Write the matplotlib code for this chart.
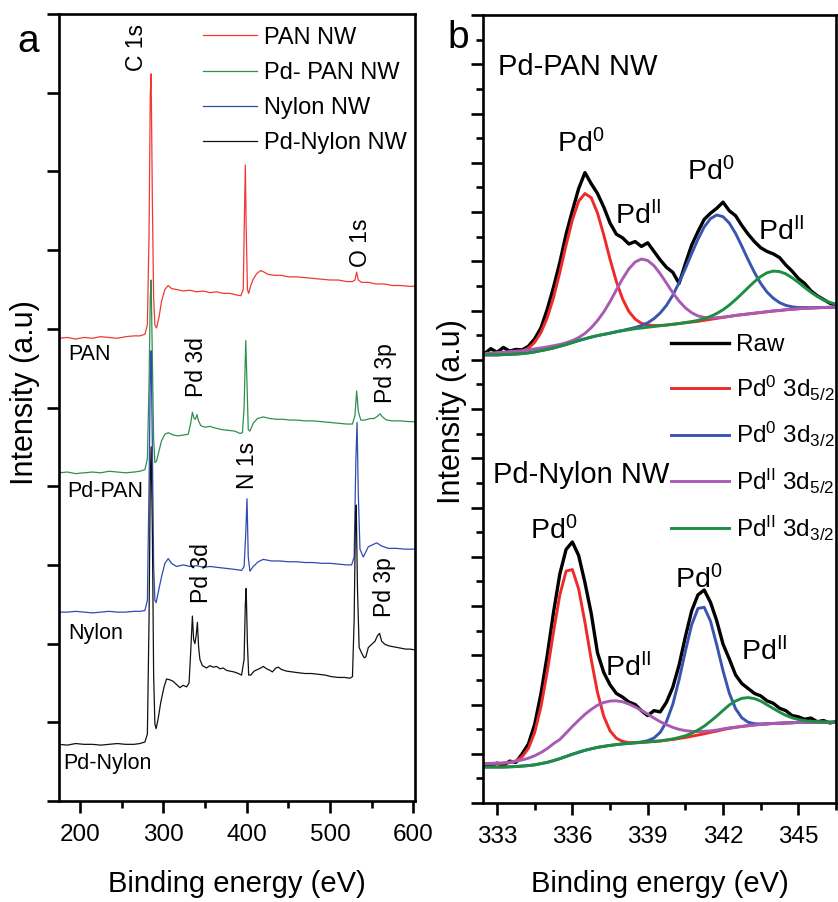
import numpy as np
import matplotlib
matplotlib.use('Agg')
import matplotlib.pyplot as plt
from matplotlib.ticker import MultipleLocator, NullFormatter

plt.rcParams['font.family'] = ['Liberation Sans', 'DejaVu Sans']
plt.rcParams['mathtext.fontset'] = 'custom'
plt.rcParams['mathtext.rm'] = 'Liberation Sans'
plt.rcParams['mathtext.it'] = 'Liberation Sans:italic'
plt.rcParams['mathtext.bf'] = 'Liberation Sans:bold'

# ---------------- panel a: survey spectra (offset, a.u.) ----------------
pan_e = [175, 185, 195, 205, 215, 225, 235, 245, 255, 265, 272, 278, 281, 283, 284.5, 285.5, 287, 288.5,
         290, 292, 295, 298, 302, 306, 310, 316, 324, 332, 340, 348, 356, 364, 372, 380, 388, 393,
         396, 397.5, 398.5, 399.5, 401, 402.5, 405, 408, 412, 417, 421, 426, 434, 442, 450, 460, 470,
         480, 490, 500, 510, 520, 527, 530, 532, 534, 538, 546, 555, 565, 575, 585, 595, 602]
pan_i = [5.88, 5.89, 5.87, 5.89, 5.88, 5.90, 5.89, 5.88, 5.90, 5.91, 5.91, 5.93, 6.05, 7.2, 9.0, 9.24, 7.6, 6.4,
         6.05, 6.01, 6.15, 6.35, 6.50, 6.55, 6.51, 6.50, 6.48, 6.49, 6.47, 6.48, 6.46, 6.47, 6.45, 6.45, 6.43, 6.42,
         6.50, 7.5, 8.08, 7.3, 6.5, 6.45, 6.55, 6.63, 6.70, 6.74, 6.72, 6.69, 6.68, 6.68, 6.66, 6.66, 6.65,
         6.64, 6.63, 6.62, 6.62, 6.60, 6.60, 6.62, 6.72, 6.62, 6.59, 6.59, 6.57, 6.57, 6.55, 6.55, 6.54, 6.54]

pdpan_e = [175, 185, 195, 205, 215, 225, 235, 245, 255, 265, 272, 278, 281, 283, 284.5, 285.5, 287, 288.5,
           290, 292, 295, 298, 302, 306, 312, 318, 324, 330, 333, 335, 337, 338.5, 340.5, 342, 345, 350,
           356, 362, 370, 378, 386, 392, 395, 397, 399, 400.5, 402, 404, 408, 413, 420, 428, 436, 444,
           452, 460, 470, 480, 490, 500, 510, 520, 527, 530, 532, 534, 537, 542, 548, 553, 557, 560,
           563, 568, 575, 585, 595, 602]
pdpan_i = [4.17, 4.18, 4.16, 4.17, 4.18, 4.17, 4.19, 4.18, 4.17, 4.18, 4.19, 4.21, 4.35, 5.3, 6.4, 6.62, 5.6, 4.6,
           4.30, 4.32, 4.45, 4.58, 4.66, 4.68, 4.65, 4.64, 4.65, 4.66, 4.80, 4.94, 4.86, 4.85, 4.91, 4.84, 4.77, 4.75,
           4.76, 4.74, 4.72, 4.71, 4.70, 4.67, 4.68, 5.0, 5.85, 5.3, 4.72, 4.70, 4.80, 4.86, 4.88, 4.86, 4.85, 4.85,
           4.84, 4.84, 4.83, 4.83, 4.82, 4.81, 4.80, 4.79, 4.79, 4.90, 5.21, 4.95, 4.84, 4.84, 4.86, 4.86, 4.89, 4.92,
           4.88, 4.84, 4.83, 4.83, 4.82, 4.82]

nylon_e = [175, 185, 195, 205, 215, 225, 235, 245, 255, 265, 272, 278, 281, 283, 284.5, 285.5, 287, 288.5,
           290, 291.5, 294, 298, 302, 306, 310, 316, 324, 332, 340, 348, 356, 364, 372, 380, 388, 394,
           397, 399, 400.5, 402, 404, 408, 414, 420, 430, 440, 450, 460, 470, 480, 490, 500, 510, 520,
           526, 529, 531, 532.5, 534, 536, 540, 546, 552, 556, 562, 570, 580, 590, 602]
nylon_i = [2.40, 2.40, 2.41, 2.40, 2.39, 2.40, 2.41, 2.40, 2.40, 2.41, 2.41, 2.42, 2.55, 4.0, 5.4, 5.72, 4.5, 3.0,
           2.55, 2.52, 2.65, 2.85, 3.02, 3.08, 3.02, 2.98, 3.00, 2.98, 2.99, 2.97, 2.98, 2.97, 2.96, 2.95, 2.94, 2.93,
           2.98, 3.4, 3.84, 3.1, 2.92, 2.98, 3.04, 3.07, 3.05, 3.05, 3.04, 3.04, 3.03, 3.03, 3.02, 3.02, 3.01, 3.00,
           3.00, 3.10, 4.3, 4.81, 3.9, 3.2, 3.10, 3.23, 3.26, 3.28, 3.24, 3.21, 3.21, 3.20, 3.20]

pdnylon_e = [175, 185, 195, 205, 215, 225, 235, 245, 255, 265, 272, 278, 281, 283, 284.5, 285.5, 287, 288.5,
             290, 291.5, 294, 297, 301, 304, 308, 312, 316, 320, 324, 328, 331, 333, 335, 336.5, 338, 339.5,
             341, 342.5, 344, 347, 352, 356, 360, 364, 368, 372, 376, 380, 385, 390, 394, 397, 398.5, 399.5,
             401, 402.5, 405, 409, 413, 417, 420, 424, 428, 431, 435, 438, 442, 448, 455, 462, 470, 478,
             486, 494, 502, 510, 518, 524, 527, 529, 530.5, 531.5, 533, 535, 538, 541, 543, 546, 550, 554,
             557, 559.5, 562, 566, 571, 576, 581, 586, 591, 596, 602]
pdnylon_i = [0.72, 0.71, 0.73, 0.72, 0.72, 0.71, 0.72, 0.73, 0.72, 0.72, 0.73, 0.75, 0.85, 2.3, 4.1, 4.5, 3.4, 1.6,
             0.98, 0.92, 1.05, 1.25, 1.45, 1.55, 1.54, 1.52, 1.48, 1.44, 1.47, 1.45, 1.50, 1.9, 2.35, 2.05, 2.0, 2.1,
             2.27, 1.95, 1.80, 1.72, 1.69, 1.72, 1.70, 1.71, 1.68, 1.69, 1.66, 1.65, 1.64, 1.62, 1.60, 1.8, 2.5, 2.70,
             2.0, 1.6, 1.60, 1.65, 1.67, 1.69, 1.71, 1.68, 1.66, 1.64, 1.69, 1.70, 1.67, 1.65, 1.64, 1.63, 1.62, 1.62,
             1.61, 1.60, 1.58, 1.57, 1.57, 1.56, 1.58, 2.3, 3.5, 3.76, 2.7, 1.95, 1.88, 1.82, 1.83, 1.95, 1.99, 2.03,
             2.10, 2.13, 2.03, 1.99, 1.97, 1.96, 1.95, 1.94, 1.93, 1.93, 1.92]

# ---------------- panel b: Pd 3d high resolution (a.u.) ----------------
be = np.arange(332.5, 346.51, 0.25)

pan_raw = [18.25, 18.45, 18.30, 18.50, 18.35, 18.42, 18.40, 18.55, 18.85, 19.30,
           20.05, 20.95, 21.95, 23.10, 24.05, 24.95, 25.60, 25.15, 24.75, 24.20,
           23.55, 23.10, 22.95, 22.70, 22.80, 22.60, 22.75, 22.40, 22.05, 21.75,
           21.55, 21.10, 21.90, 22.65, 23.20, 23.70, 23.95, 24.15, 24.40, 24.05,
           23.85, 23.45, 23.10, 22.80, 22.55, 22.40, 22.30, 22.15, 21.85, 21.60,
           21.30, 21.10, 20.80, 20.60, 20.45, 20.30, 20.22]
pan_pd0_52 = [18.20, 18.20, 18.20, 18.21, 18.23, 18.27, 18.34, 18.47, 18.71, 19.11,
              19.71, 20.53, 21.55, 22.66, 23.68, 24.44, 24.75, 24.58, 23.96, 23.07,
              22.08, 21.18, 20.47, 19.96, 19.65, 19.48, 19.41, 19.39, 19.39, 19.41,
              19.44, 19.47, 19.50, 19.53, 19.56, 19.60, 19.64, 19.68, 19.72, 19.76,
              19.80, 19.83, 19.86, 19.89, 19.92, 19.95, 19.98, 20.00, 20.03, 20.05,
              20.07, 20.09, 20.10, 20.11, 20.12, 20.13, 20.14]
pan_pd0_32 = [18.20, 18.20, 18.20, 18.21, 18.22, 18.23, 18.25, 18.28, 18.32, 18.37,
              18.42, 18.48, 18.55, 18.62, 18.70, 18.78, 18.85, 18.92, 18.98, 19.03,
              19.08, 19.14, 19.19, 19.25, 19.31, 19.39, 19.50, 19.67, 19.90, 20.21,
              20.62, 21.13, 21.70, 22.31, 22.89, 23.39, 23.73, 23.88, 23.81, 23.55,
              23.13, 22.61, 22.06, 21.55, 21.10, 20.75, 20.50, 20.32, 20.21, 20.15,
              20.12, 20.12, 20.11, 20.12, 20.12, 20.13, 20.14]
pan_pd2_52 = [18.25, 18.27, 18.29, 18.31, 18.33, 18.35, 18.37, 18.40, 18.44, 18.48,
              18.52, 18.57, 18.62, 18.69, 18.78, 18.90, 19.07, 19.30, 19.59, 19.94,
              20.36, 20.83, 21.29, 21.69, 21.97, 22.09, 22.03, 21.82, 21.49, 21.11,
              20.72, 20.38, 20.11, 19.91, 19.78, 19.72, 19.70, 19.71, 19.73, 19.76,
              19.80, 19.83, 19.86, 19.89, 19.92, 19.95, 19.98, 20.00, 20.03, 20.05,
              20.07, 20.09, 20.10, 20.11, 20.12, 20.13, 20.14]
pan_pd2_32 = [18.20, 18.20, 18.20, 18.21, 18.22, 18.23, 18.25, 18.28, 18.32, 18.37,
              18.42, 18.48, 18.55, 18.62, 18.70, 18.78, 18.85, 18.92, 18.98, 19.03,
              19.08, 19.13, 19.18, 19.22, 19.26, 19.29, 19.32, 19.35, 19.38, 19.41,
              19.44, 19.47, 19.51, 19.55, 19.60, 19.67, 19.76, 19.88, 20.03, 20.22,
              20.44, 20.68, 20.93, 21.17, 21.38, 21.53, 21.60, 21.58, 21.49, 21.33,
              21.14, 20.94, 20.74, 20.57, 20.43, 20.33, 20.26]

nyl_raw = [1.55, 1.50, 1.62, 1.52, 1.70, 1.65, 2.00, 2.40, 3.20, 4.45,
           6.00, 7.75, 9.30, 10.30, 10.60, 10.05, 8.95, 7.70, 6.10, 5.30,
           4.80, 4.45, 4.30, 4.10, 4.00, 3.75, 3.55, 3.75, 3.70, 4.10,
           4.70, 5.60, 6.75, 7.80, 8.45, 8.65, 8.15, 7.40, 6.45, 5.85,
           5.20, 4.85, 4.65, 4.45, 4.35, 4.15, 4.05, 3.85, 3.75, 3.55,
           3.50, 3.40, 3.45, 3.30, 3.35, 3.25, 3.30]
nyl_pd0_52 = [1.60, 1.60, 1.60, 1.61, 1.64, 1.71, 1.88, 2.22, 2.87, 3.92,
              5.34, 6.96, 8.45, 9.42, 9.48, 8.69, 7.34, 5.83, 4.49, 3.52,
              2.93, 2.63, 2.50, 2.45, 2.45, 2.46, 2.48, 2.50, 2.52, 2.55,
              2.58, 2.62, 2.66, 2.71, 2.76, 2.81, 2.87, 2.92, 2.98, 3.03,
              3.07, 3.11, 3.14, 3.17, 3.19, 3.21, 3.23, 3.24, 3.25, 3.26,
              3.27, 3.27, 3.28, 3.28, 3.28, 3.28, 3.28]
nyl_pd0_32 = [1.46, 1.46, 1.46, 1.46, 1.47, 1.48, 1.50, 1.52, 1.55, 1.60,
              1.65, 1.72, 1.80, 1.89, 1.98, 2.06, 2.14, 2.20, 2.26, 2.30,
              2.34, 2.37, 2.40, 2.42, 2.45, 2.48, 2.53, 2.64, 2.87, 3.31,
              4.01, 5.01, 6.16, 7.23, 7.90, 7.95, 7.39, 6.42, 5.37, 4.46,
              3.83, 3.46, 3.28, 3.22, 3.21, 3.22, 3.23, 3.24, 3.25, 3.26,
              3.27, 3.27, 3.28, 3.28, 3.28, 3.28, 3.28]
nyl_pd2_52 = [1.60, 1.61, 1.62, 1.63, 1.66, 1.70, 1.75, 1.82, 1.92, 2.05,
              2.21, 2.41, 2.58, 2.84, 3.11, 3.36, 3.60, 3.80, 3.97, 4.08,
              4.14, 4.15, 4.11, 4.02, 3.90, 3.76, 3.61, 3.45, 3.30, 3.18,
              3.07, 2.99, 2.94, 2.91, 2.90, 2.91, 2.93, 2.96, 3.01, 3.05,
              3.08, 3.11, 3.14, 3.17, 3.19, 3.21, 3.23, 3.24, 3.25, 3.26,
              3.27, 3.27, 3.28, 3.28, 3.28, 3.28, 3.28]
nyl_pd2_32 = [1.46, 1.46, 1.46, 1.46, 1.47, 1.48, 1.50, 1.52, 1.55, 1.60,
              1.65, 1.72, 1.80, 1.89, 1.98, 2.06, 2.14, 2.20, 2.26, 2.30,
              2.34, 2.37, 2.40, 2.42, 2.44, 2.46, 2.48, 2.50, 2.52, 2.56,
              2.60, 2.66, 2.73, 2.83, 2.96, 3.12, 3.32, 3.53, 3.76, 3.98,
              4.14, 4.25, 4.28, 4.24, 4.14, 3.99, 3.84, 3.69, 3.56, 3.46,
              3.39, 3.34, 3.32, 3.30, 3.29, 3.28, 3.28]

survey_labels = ['PAN NW', 'Pd- PAN NW', 'Nylon NW', 'Pd-Nylon NW']
survey_colors = ['#ee3a33', '#2e9050', '#2f4bb0', '#111111']
fit_labels = ['Raw', r'Pd$^{\mathrm{0}}$ 3d$_{\mathrm{5/2}}$', r'Pd$^{\mathrm{0}}$ 3d$_{\mathrm{3/2}}$',
              r'Pd$^{\mathrm{II}}$ 3d$_{\mathrm{5/2}}$', r'Pd$^{\mathrm{II}}$ 3d$_{\mathrm{3/2}}$']
fit_colors = ['#000000', '#ee2a2a', '#3a55b0', '#a95bb4', '#1e8f42']

W, H = 838, 902
fig = plt.figure(figsize=(W / 100, H / 100), dpi=100)
ax_a = fig.add_axes([59 / W, (H - 801) / H, 356 / W, 787 / H])
ax_b = fig.add_axes([483 / W, (H - 803) / H, 353 / W, 788 / H])

for ax in (ax_a, ax_b):
    for s in ax.spines.values():
        s.set_linewidth(1.9)
    ax.tick_params(which='major', direction='out', width=1.9, length=8.5, labelsize=17.5, pad=8)
    ax.tick_params(which='minor', direction='out', width=1.9, length=5)
    ax.yaxis.set_major_formatter(NullFormatter())

# panel a
series = [(pan_e, pan_i), (pdpan_e, pdpan_i), (nylon_e, nylon_i), (pdnylon_e, pdnylon_i)]
for (e, i), lab, col in zip(series, survey_labels, survey_colors):
    ax_a.plot(e, i, color=col, lw=0.9, label=lab)
ax_a.set_xlim(175, 602)
ax_a.set_ylim(0, 10)
ax_a.xaxis.set_major_locator(MultipleLocator(100))
ax_a.xaxis.set_minor_locator(MultipleLocator(50))
ax_a.yaxis.set_major_locator(MultipleLocator(1))
ax_a.legend(loc='upper left', bbox_to_anchor=(0.4045, 0.984), frameon=False, fontsize=17,
            handlelength=2.3, handletextpad=0.3, labelspacing=0.56, borderpad=0, borderaxespad=0)

peak_fs = 16.5
ax_a.text(268.5, 9.58, 'C 1s', rotation=90, ha='center', va='center', fontsize=peak_fs)
ax_a.text(536.3, 7.09, 'O 1s', rotation=90, ha='center', va='center', fontsize=peak_fs)
ax_a.text(340.5, 5.51, 'Pd 3d', rotation=90, ha='center', va='center', fontsize=peak_fs)
ax_a.text(566.4, 5.44, 'Pd 3p', rotation=90, ha='center', va='center', fontsize=peak_fs)
ax_a.text(400.6, 4.26, 'N 1s', rotation=90, ha='center', va='center', fontsize=peak_fs)
ax_a.text(346.5, 2.90, 'Pd 3d', rotation=90, ha='center', va='center', fontsize=peak_fs)
ax_a.text(565.2, 2.72, 'Pd 3p', rotation=90, ha='center', va='center', fontsize=peak_fs)
ax_a.text(185.6, 5.67, 'PAN', ha='left', va='center', fontsize=15.5)
ax_a.text(184.4, 3.93, 'Pd-PAN', ha='left', va='center', fontsize=15.5)
ax_a.text(185.6, 2.13, 'Nylon', ha='left', va='center', fontsize=15.5)
ax_a.text(179.6, 0.48, 'Pd-Nylon', ha='left', va='center', fontsize=15.5)

# panel b
for ys, lab, col in zip([pan_raw, pan_pd0_52, pan_pd0_32, pan_pd2_52, pan_pd2_32], fit_labels, fit_colors):
    ax_b.plot(be, ys, color=col, lw=2.4 if lab == 'Raw' else 2.1, label=lab)
for ys, col in zip([nyl_raw, nyl_pd0_52, nyl_pd0_32, nyl_pd2_52, nyl_pd2_32], fit_colors):
    ax_b.plot(be, ys, color=col, lw=2.4 if col == '#000000' else 2.1)
ax_b.set_xlim(332.44, 346.5)
ax_b.set_ylim(0, 32)
ax_b.xaxis.set_major_locator(MultipleLocator(3))
ax_b.xaxis.set_minor_locator(MultipleLocator(1.5))
ax_b.yaxis.set_major_locator(MultipleLocator(2))
ax_b.yaxis.set_minor_locator(MultipleLocator(1))
ax_b.legend(loc='upper left', bbox_to_anchor=(0.533, 0.595), frameon=False, fontsize=17.5,
            handlelength=2.4, handletextpad=0.25, labelspacing=0.72, borderpad=0, borderaxespad=0)

lab_fs = 20.5
ax_b.text(333.04, 29.56, 'Pd-PAN NW', fontsize=21, ha='left', va='baseline')
ax_b.text(335.38, 26.43, r'Pd$^{\mathrm{0}}$', fontsize=lab_fs, ha='left', va='baseline')
ax_b.text(337.68, 23.5, r'Pd$^{\mathrm{II}}$', fontsize=lab_fs, ha='left', va='baseline')
ax_b.text(340.58, 25.3, r'Pd$^{\mathrm{0}}$', fontsize=lab_fs, ha='left', va='baseline')
ax_b.text(343.4, 22.86, r'Pd$^{\mathrm{II}}$', fontsize=lab_fs, ha='left', va='baseline')
ax_b.text(332.84, 12.99, 'Pd-Nylon NW', fontsize=21, ha='left', va='baseline')
ax_b.text(334.31, 10.7, r'Pd$^{\mathrm{0}}$', fontsize=lab_fs, ha='left', va='baseline')
ax_b.text(337.29, 5.15, r'Pd$^{\mathrm{II}}$', fontsize=lab_fs, ha='left', va='baseline')
ax_b.text(340.07, 8.72, r'Pd$^{\mathrm{0}}$', fontsize=lab_fs, ha='left', va='baseline')
ax_b.text(342.73, 5.8, r'Pd$^{\mathrm{II}}$', fontsize=lab_fs, ha='left', va='baseline')

# axis titles and panel letters
fig.text(25 / W, 1 - 393 / H, 'Intensity (a.u)', rotation=90, ha='center', va='center', fontsize=22)
fig.text(452 / W, 1 - 412 / H, 'Intensity (a.u)', rotation=90, ha='center', va='center', fontsize=22)
fig.text(237 / W, 1 - 884 / H, 'Binding energy (eV)', ha='center', va='center', fontsize=21)
fig.text(660 / W, 1 - 884 / H, 'Binding energy (eV)', ha='center', va='center', fontsize=21)
fig.text(17 / W, 1 - 52 / H, 'a', ha='left', va='baseline', fontsize=28)
fig.text(447 / W, 1 - 48 / H, 'b', ha='left', va='baseline', fontsize=28)

fig.savefig('out.png', dpi=100)
